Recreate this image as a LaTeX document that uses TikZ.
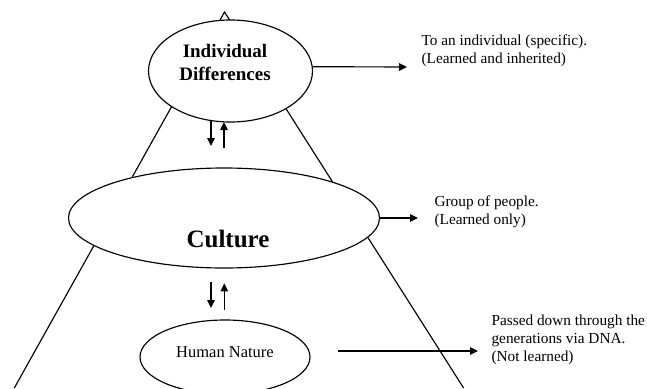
\documentclass[tikz,border=0pt]{standalone}
\usepackage{fontspec}
\setmainfont{Liberation Serif}
\usetikzlibrary{arrows.meta,shapes.geometric}
\begin{document}
\begin{tikzpicture}[x=1pt,y=-1pt,
  line width=1.15pt,
  ell/.style={draw, ellipse, fill=white, inner sep=0pt},
  arr/.style={-{Triangle[length=8pt,width=7.5pt]}},
  note/.style={font=\fontsize{15.3}{18}\selectfont, align=left, anchor=north west, inner sep=0pt},
  title/.style={font=\bfseries\fontsize{19}{22}\selectfont, align=center, inner sep=0pt}
  ]
\useasboundingbox (0,0) rectangle (647,388);
% pyramid
\coordinate (apex) at (224.5,12);
\coordinate (bl) at (14.3,388);
\coordinate (br) at (463.6,388);
\draw (bl) -- (apex) -- (br);
% ellipses
\node[ell, minimum width=164pt, minimum height=102pt] (id) at (230.5,71) {};
\node[title] (idtxt) at (225,62.5) {Individual\\Differences};
\node[ell, minimum width=311pt, minimum height=100pt] (cul) at (224,218) {};
\node[font=\bfseries\fontsize{25}{28}\selectfont, inner sep=0pt, anchor=base] (cultxt) at (228,247) {Culture};
\node[ell, minimum width=170pt, minimum height=74pt] (hn) at (225,357) {};
\node[font=\fontsize{16.5}{19}\selectfont, inner sep=0pt, anchor=base] (hntxt) at (225,357) {Human Nature};
% side arrows
\coordinate (ida) at (407,67);
\draw[arr] (id.3) -- (ida);
\coordinate (cula) at (418,218);
\draw[arr] (cul.east) -- (cula);
\coordinate (hns) at (338,351);
\coordinate (hne) at (478,351);
\draw[arr] (hns) -- (hne);
% vertical arrows
\coordinate (d1s) at (211,120.5);
\coordinate (d1e) at (211,146);
\coordinate (u1s) at (224,148);
\coordinate (u1e) at (224,122);
\draw[arr] (d1s) -- (d1e);
\draw[arr] (u1s) -- (u1e);
\coordinate (d2s) at (211,281.7);
\coordinate (d2e) at (211,308);
\coordinate (u2s) at (224.3,310);
\coordinate (u2e) at (224.3,283.3);
\draw[arr] (d2s) -- (d2e);
\draw[arr] (u2s) -- (u2e);
% notes
\node[note] (n1) at (421,34) {To an individual (specific).\\(Learned and inherited)};
\node[note] (n2) at (434,195) {Group of people.\\(Learned only)};
\node[note] (n3) at (491,314) {Passed down through the\\generations via DNA.\\(Not learned)};
\end{tikzpicture}
\end{document}
